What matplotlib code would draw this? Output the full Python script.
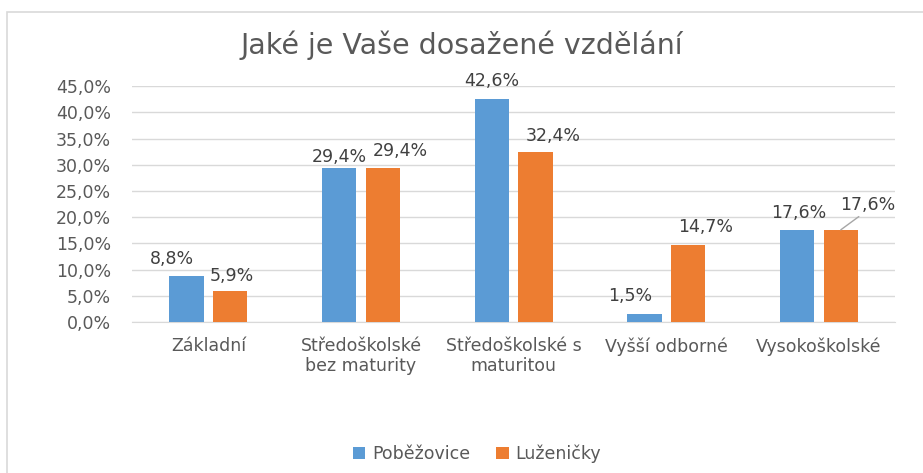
import matplotlib
matplotlib.use("Agg")
import matplotlib.pyplot as plt
import numpy as np
from matplotlib.patches import Rectangle

categories = ["Základní", "Středoškolské\nbez maturity", "Středoškolské s\nmaturitou",
              "Vyšší odborné", "Vysokoškolské"]
pobezovice = [8.8, 29.4, 42.6, 1.5, 17.6]
luzenicky = [5.9, 29.4, 32.4, 14.7, 17.6]
yticks = [0, 5, 10, 15, 20, 25, 30, 35, 40, 45]

# label nudges in pixels (dx, dy above bar top), as placed in the source chart
blue_nudge = [(-15, 8), (0, 2), (0, 9), (-14, 9), (2, 8)]
orange_nudge = [(2, 6), (17, 8), (18, 7), (17, 9), (27, 16)]

BLUE = "#5B9BD5"
ORANGE = "#ED7D31"
TXT = "#595959"
LBL = "#404040"

plt.rcParams["font.family"] = ["DejaVu Sans"]


def pct(v):
    return f"{v:.1f}%".replace(".", ",")


fig = plt.figure(figsize=(9.23, 4.73), dpi=100)
# light chart frame (left and top edges visible in the source)
fig.patches.append(Rectangle((7 / 923, -0.1), 1.2, (473 - 12) / 473 + 0.1,
                             transform=fig.transFigure, fill=False,
                             edgecolor="#D9D9D9", lw=1.2))
ax = fig.add_axes([0.143, 0.319, 0.827, 0.499])

x = np.arange(len(categories))
w = 0.225
off = 0.143
b1 = ax.bar(x - off, pobezovice, w, color=BLUE, label="Poběžovice", zorder=3)
b2 = ax.bar(x + off, luzenicky, w, color=ORANGE, label="Luženičky", zorder=3)

FS = 12.5
px = 0.72  # points per pixel at dpi 100
for rect, v, (dx, dy) in zip(b1, pobezovice, blue_nudge):
    ax.annotate(pct(v), (rect.get_x() + rect.get_width() / 2, v),
                xytext=(dx * px, dy * px), textcoords="offset points",
                ha="center", va="bottom", fontsize=FS, color=LBL)
for i, (rect, v, (dx, dy)) in enumerate(zip(b2, luzenicky, orange_nudge)):
    cx = rect.get_x() + rect.get_width() / 2
    kw = {}
    if i == len(luzenicky) - 1:
        # label pushed aside with a leader line
        kw["arrowprops"] = dict(arrowstyle="-", color="#A6A6A6", lw=1,
                                shrinkA=0, shrinkB=0, relpos=(0.45, 0.1))
    ax.annotate(pct(v), (cx, v), xytext=(dx * px, dy * px),
                textcoords="offset points", ha="center", va="bottom",
                fontsize=FS, color=LBL, **kw)

ax.set_ylim(0, 45)
ax.set_xlim(-0.5, len(categories) - 0.5)
ax.set_yticks(yticks)
ax.set_yticklabels([pct(t) for t in yticks], fontsize=FS, color=TXT)
ax.set_xticks(x)
ax.set_xticklabels(categories, fontsize=FS, color=TXT, linespacing=1.15)
ax.tick_params(axis="y", length=0, pad=15)
ax.tick_params(axis="x", length=0, pad=11)
ax.grid(axis="y", color="#D9D9D9", lw=1, zorder=0)
for s in ["top", "right", "left"]:
    ax.spines[s].set_visible(False)
ax.spines["bottom"].set_color("#D9D9D9")

fig.text(0.5, 0.905, "Jaké je Vaše dosažené vzdělání", ha="center", va="center",
         fontsize=20.5, color=TXT)
fig.legend(loc="center", bbox_to_anchor=(0.517, 0.04), ncol=2, frameon=False,
           fontsize=FS, handlelength=0.7, handleheight=0.7, columnspacing=1.5,
           handletextpad=0.4, labelcolor=TXT)

fig.savefig("out.png", dpi=100)
